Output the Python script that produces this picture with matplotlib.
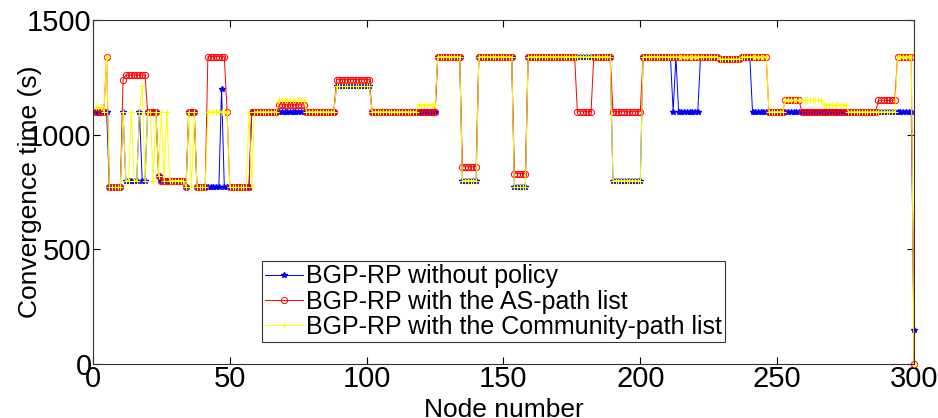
import numpy as np
import matplotlib
matplotlib.use('Agg')
import matplotlib.pyplot as plt

plt.rcParams['font.family'] = ['Liberation Sans', 'DejaVu Sans']

# --- data (node 1..300) ---
nodes = np.arange(1, 301)

blue_vals = [
    1100, 1100, 1100, 1100, 1100, 770, 770, 770, 770, 770,
    1100, 800, 800, 800, 800, 800, 1100, 800, 800, 1100,
    1100, 1100, 1100, 820, 800, 800, 800, 800, 800, 800,
    800, 800, 800, 770, 1100, 1100, 1100, 770, 770, 770,
    770, 770, 770, 770, 770, 770, 1200, 770, 770, 770,
    770, 770, 770, 770, 770, 770, 770, 1100, 1100, 1100,
    1100, 1100, 1100, 1100, 1100, 1100, 1100, 1100, 1100, 1100,
    1100, 1100, 1100, 1100, 1100, 1100, 1100, 1100, 1100, 1100,
    1100, 1100, 1100, 1100, 1100, 1100, 1100, 1100, 1210, 1210,
    1210, 1210, 1210, 1210, 1210, 1210, 1210, 1210, 1210, 1210,
    1210, 1100, 1100, 1100, 1100, 1100, 1100, 1100, 1100, 1100,
    1100, 1100, 1100, 1100, 1100, 1100, 1100, 1100, 1100, 1100,
    1100, 1100, 1100, 1100, 1100, 1340, 1340, 1340, 1340, 1340,
    1340, 1340, 1340, 1340, 800, 800, 800, 800, 800, 800,
    1340, 1340, 1340, 1340, 1340, 1340, 1340, 1340, 1340, 1340,
    1340, 1340, 1340, 770, 770, 770, 770, 770, 1340, 1340,
    1340, 1340, 1340, 1340, 1340, 1340, 1340, 1340, 1340, 1340,
    1340, 1340, 1340, 1340, 1340, 1340, 1340, 1340, 1340, 1340,
    1340, 1340, 1340, 1340, 1340, 1340, 1340, 1340, 1340, 800,
    800, 800, 800, 800, 800, 800, 800, 800, 800, 800,
    1340, 1340, 1340, 1340, 1340, 1340, 1340, 1340, 1340, 1340,
    1340, 1100, 1340, 1100, 1100, 1100, 1100, 1100, 1100, 1100,
    1100, 1340, 1340, 1340, 1340, 1340, 1340, 1340, 1330, 1330,
    1330, 1330, 1330, 1330, 1330, 1330, 1340, 1340, 1340, 1340,
    1100, 1100, 1100, 1100, 1100, 1100, 1100, 1100, 1100, 1100,
    1100, 1100, 1100, 1100, 1100, 1100, 1100, 1100, 1100, 1100,
    1100, 1100, 1100, 1100, 1100, 1100, 1100, 1100, 1100, 1100,
    1100, 1100, 1100, 1100, 1100, 1100, 1100, 1100, 1100, 1100,
    1100, 1100, 1100, 1100, 1100, 1100, 1100, 1100, 1100, 1100,
    1100, 1100, 1100, 1100, 1100, 1100, 1100, 1100, 1100, 150,
]

red_vals = [
    1100, 1100, 1100, 1100, 1340, 770, 770, 770, 770, 770,
    1240, 1260, 1260, 1260, 1260, 1260, 1260, 1260, 1260, 1100,
    1100, 1100, 1100, 820, 800, 800, 800, 800, 800, 800,
    800, 800, 800, 770, 1100, 1100, 1100, 770, 770, 770,
    770, 1340, 1340, 1340, 1340, 1340, 1340, 1340, 1100, 770,
    770, 770, 770, 770, 770, 770, 770, 1100, 1100, 1100,
    1100, 1100, 1100, 1100, 1100, 1100, 1100, 1130, 1130, 1130,
    1130, 1130, 1130, 1130, 1130, 1130, 1130, 1100, 1100, 1100,
    1100, 1100, 1100, 1100, 1100, 1100, 1100, 1100, 1240, 1240,
    1240, 1240, 1240, 1240, 1240, 1240, 1240, 1240, 1240, 1240,
    1240, 1100, 1100, 1100, 1100, 1100, 1100, 1100, 1100, 1100,
    1100, 1100, 1100, 1100, 1100, 1100, 1100, 1100, 1100, 1100,
    1100, 1100, 1100, 1100, 1100, 1340, 1340, 1340, 1340, 1340,
    1340, 1340, 1340, 1340, 860, 860, 860, 860, 860, 860,
    1340, 1340, 1340, 1340, 1340, 1340, 1340, 1340, 1340, 1340,
    1340, 1340, 1340, 830, 830, 830, 830, 830, 1340, 1340,
    1340, 1340, 1340, 1340, 1340, 1340, 1340, 1340, 1340, 1340,
    1340, 1340, 1340, 1340, 1340, 1340, 1100, 1100, 1100, 1100,
    1100, 1100, 1340, 1340, 1340, 1340, 1340, 1340, 1340, 1100,
    1100, 1100, 1100, 1100, 1100, 1100, 1100, 1100, 1100, 1100,
    1340, 1340, 1340, 1340, 1340, 1340, 1340, 1340, 1340, 1340,
    1340, 1340, 1340, 1340, 1340, 1340, 1340, 1340, 1340, 1340,
    1340, 1340, 1340, 1340, 1340, 1340, 1340, 1340, 1330, 1330,
    1330, 1330, 1330, 1330, 1330, 1330, 1340, 1340, 1340, 1340,
    1340, 1340, 1340, 1340, 1340, 1340, 1100, 1100, 1100, 1100,
    1100, 1100, 1150, 1150, 1150, 1150, 1150, 1150, 1100, 1100,
    1100, 1100, 1100, 1100, 1100, 1100, 1100, 1100, 1100, 1100,
    1100, 1100, 1100, 1100, 1100, 1100, 1100, 1100, 1100, 1100,
    1100, 1100, 1100, 1100, 1100, 1100, 1150, 1150, 1150, 1150,
    1150, 1150, 1150, 1340, 1340, 1340, 1340, 1340, 1340, 0,
]

yellow_vals = [
    1120, 1120, 1120, 1100, 1340, 770, 770, 770, 770, 770,
    1100, 800, 800, 1100, 800, 800, 1100, 1210, 800, 1100,
    1100, 800, 1100, 820, 1100, 800, 1100, 800, 800, 800,
    800, 800, 800, 770, 1100, 770, 1100, 770, 770, 770,
    770, 1100, 1100, 1100, 1100, 1100, 1100, 1100, 1100, 770,
    770, 770, 770, 770, 770, 770, 1100, 770, 1100, 1100,
    1100, 1100, 1100, 1100, 1100, 1100, 1100, 1150, 1150, 1150,
    1150, 1150, 1150, 1150, 1150, 1150, 1150, 1100, 1100, 1100,
    1100, 1100, 1100, 1100, 1100, 1100, 1100, 1100, 1210, 1210,
    1210, 1210, 1210, 1210, 1210, 1210, 1210, 1210, 1210, 1210,
    1210, 1100, 1100, 1100, 1100, 1100, 1100, 1100, 1100, 1100,
    1100, 1100, 1100, 1100, 1100, 1100, 1100, 1100, 1130, 1130,
    1130, 1130, 1130, 1130, 1130, 1340, 1340, 1340, 1340, 1340,
    1340, 1340, 1340, 1340, 800, 800, 800, 800, 800, 800,
    1340, 1340, 1340, 1340, 1340, 1340, 1340, 1340, 1340, 1340,
    1340, 1340, 1340, 770, 770, 770, 770, 770, 1340, 1340,
    1340, 1340, 1340, 1340, 1340, 1340, 1340, 1340, 1340, 1340,
    1340, 1340, 1340, 1340, 1340, 1340, 1340, 1340, 1340, 1340,
    1340, 1340, 1340, 1340, 1340, 1340, 1340, 1340, 1340, 800,
    800, 800, 800, 800, 800, 800, 800, 800, 800, 800,
    1340, 1340, 1340, 1340, 1340, 1340, 1340, 1340, 1340, 1340,
    1340, 1340, 1340, 1340, 1340, 1340, 1340, 1340, 1340, 1340,
    1340, 1340, 1340, 1340, 1340, 1340, 1340, 1340, 1330, 1330,
    1330, 1330, 1330, 1330, 1330, 1330, 1340, 1340, 1340, 1340,
    1340, 1340, 1340, 1340, 1340, 1340, 1100, 1100, 1100, 1100,
    1100, 1100, 1150, 1150, 1150, 1150, 1150, 1150, 1150, 1150,
    1150, 1150, 1150, 1150, 1150, 1150, 1130, 1130, 1130, 1130,
    1130, 1130, 1130, 1130, 1130, 1100, 1100, 1100, 1100, 1100,
    1100, 1100, 1100, 1100, 1100, 1100, 1100, 1100, 1100, 1100,
    1100, 1100, 1100, 1340, 1340, 1340, 1340, 1340, 1340, 0,
]

labels = ['BGP-RP without policy',
          'BGP-RP with the AS-path list',
          'BGP-RP with the Community-path list']
x_ticks = [0, 50, 100, 150, 200, 250, 300]
y_ticks = [0, 500, 1000, 1500]

fig = plt.figure(figsize=(9.38, 4.18), dpi=100)
ax = fig.add_axes([0.0991, 0.1292, 0.8753, 0.8230])

ax.plot(nodes, blue_vals, color='#0000ff', marker='*', markersize=4,
        linewidth=0.7, label=labels[0], clip_on=False)
ax.plot(nodes, red_vals, color='#ff0000', marker='o', markersize=4.5,
        markerfacecolor='none', markeredgewidth=0.7, linewidth=0.7,
        label=labels[1], clip_on=False)
ax.plot(nodes, yellow_vals, color='#ffff00', marker='+', markersize=5,
        markeredgewidth=0.8, linewidth=0.7, label=labels[2], clip_on=False)

ax.set_xlim(0, 300)
ax.set_ylim(0, 1500)
ax.set_xticks(x_ticks)
ax.set_yticks(y_ticks)
ax.tick_params(direction='in', length=5, width=0.8, top=True, right=True,
               labelsize=21, pad=1)
for s in ax.spines.values():
    s.set_linewidth(0.8)
    s.set_color('#333333')

ax.set_xlabel('Node number', fontsize=19)
ax.xaxis.set_label_coords(0.5, -0.1)
ax.set_ylabel('Convergence time (s)', fontsize=19)
ax.yaxis.set_label_coords(-0.062, 0.5)

leg = ax.legend(loc='lower left', bbox_to_anchor=(0.206, 0.064),
                fontsize=18, frameon=True, fancybox=False, edgecolor='black',
                handlelength=1.5, borderpad=0.12, labelspacing=0.05,
                handletextpad=0.15, borderaxespad=0)
leg.get_frame().set_linewidth(0.8)

fig.savefig('out.png', dpi=100)
